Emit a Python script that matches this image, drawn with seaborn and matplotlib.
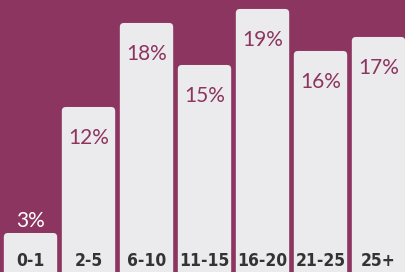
import matplotlib
matplotlib.use("Agg")
import matplotlib.pyplot as plt
import seaborn as sns
import pandas as pd
from matplotlib.patches import FancyBboxPatch

groups = ["0-1", "2-5", "6-10", "11-15", "16-20", "21-25", "25+"]
shares = [3, 12, 18, 15, 19, 16, 17]

bg = "#8c3561"
barcol = "#ebebed"

df = pd.DataFrame({"group": groups, "share": shares})

fig = plt.figure(figsize=(4.06, 2.72), dpi=100, facecolor=bg)
ax = fig.add_axes([0, 0, 1, 1])
ax.set_facecolor(bg)

sns.barplot(data=df, x="group", y="share", color=barcol, width=0.92,
            saturation=1, ax=ax)

ax.set_xlim(-0.526, 6.474)
ax.set_ylim(0.214, 19.64)

# swap plain rectangles for ones with rounded tops
aspect = 58 / 14
for p in list(ax.patches):
    x, y = p.get_x(), p.get_y()
    w, h = p.get_width(), p.get_height()
    p.remove()
    ax.add_patch(FancyBboxPatch((x, y - 1), w, h + 1,
                                boxstyle="round,pad=0,rounding_size=0.07",
                                mutation_aspect=aspect, fc=barcol, ec="none"))

for i, (g, v) in enumerate(zip(groups, shares)):
    if v < 5:
        ax.text(i, v + 0.86, f"{v}%", ha="center", va="center", color="white",
                fontsize=15, family="Lato")
    else:
        ax.text(i, v - 2.2, f"{v}%", ha="center", va="center", color=bg,
                fontsize=15, family="Lato")
    ax.text(i, 1.0, g, ha="center", va="center", color="#333333",
            fontsize=12.5, fontweight="bold", fontstretch="condensed",
            family="DejaVu Sans")

ax.axis("off")
fig.savefig("out.png", dpi=100, facecolor=bg)
